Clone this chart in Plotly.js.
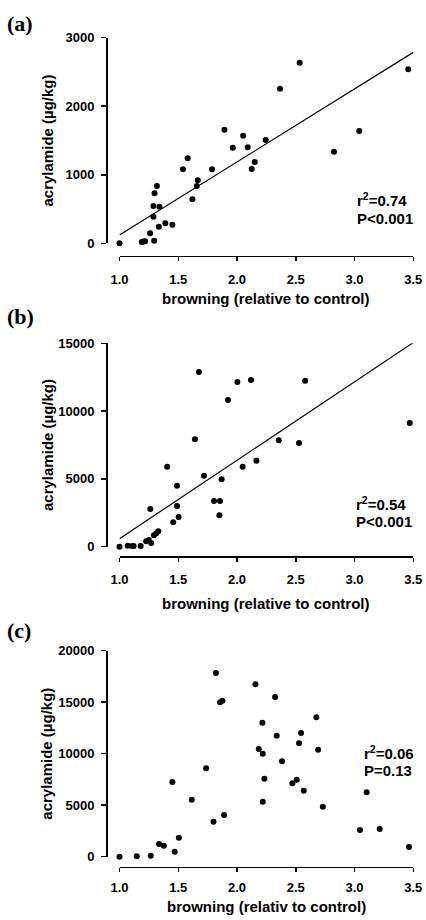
<!DOCTYPE html>
<html>
<head>
<meta charset="utf-8">
<script src="https://cdn.plot.ly/plotly-3.0.1.min.js"></script>
<style>html,body{margin:0;padding:0;background:#fff;}#chart{width:426px;height:920px;}</style>
</head>
<body>
<div id="chart"></div>
<script>
// ---- Data ----
// Panel (a)
const browningA = [1.00, 1.19, 1.204, 1.218, 1.26, 1.289, 1.289, 1.298, 1.318, 1.295, 1.335, 1.34, 1.39, 1.45,
  1.54, 1.58, 1.62, 1.658, 1.666, 1.788, 1.893, 1.964, 2.052, 2.091, 2.125, 2.151, 2.244, 2.366, 2.533, 2.825, 3.04, 3.457];
const acrylA = [0, 20, 25, 30, 146, 388, 545, 730, 836, 38, 243, 535, 292, 272,
  1079, 1240, 642, 836, 919, 1079, 1658, 1395, 1570, 1400, 1084, 1186, 1507, 2256, 2635, 1337, 1638, 2538];
const fitXA = [1.0, 3.5];
const fitYA = [122, 2786];

// Panel (b)
const browningB = [1.00, 1.07, 1.108, 1.12, 1.18, 1.227, 1.25, 1.27, 1.262, 1.293, 1.313, 1.33, 1.406, 1.457,
  1.49, 1.49, 1.503, 1.642, 1.676, 1.719, 1.804, 1.855, 1.85, 1.869, 1.923, 2.003, 2.048, 2.119, 2.165, 2.355,
  2.528, 2.58, 3.47];
const acrylB = [0, 74, 50, 50, 50, 394, 492, 270, 2779, 836, 984, 1133, 5901, 1795,
  4500, 3000, 2188, 7918, 12885, 5237, 3369, 3369, 2311, 4967, 10820, 12147, 5901, 12295, 6344, 7844,
  7647, 12246, 9123];
const fitXB = [1.0, 3.5];
const fitYB = [590, 15050];

// Panel (c)
const browningC = [1.00, 1.147, 1.266, 1.337, 1.377, 1.47, 1.45, 1.505, 1.615, 1.737, 1.80, 1.82, 1.856, 1.876,
  1.89, 2.157, 2.216, 2.185, 2.219, 2.233, 2.219, 2.324, 2.338, 2.383, 2.471, 2.508, 2.528, 2.545, 2.568,
  2.675, 2.69, 2.73, 3.046, 3.103, 3.214, 3.463];
const acrylC = [0, 32, 97, 1230, 1068, 485, 7249, 1845, 5534, 8576, 3398, 17832, 14984, 15146,
  4045, 16738, 13010, 10456, 10000, 7573, 5340, 15505, 11748, 9262, 7126, 7476, 11010, 12010, 6408,
  13534, 10388, 4854, 2589, 6246, 2686, 939];

const xTicks = [1.0, 1.5, 2.0, 2.5, 3.0, 3.5];
const xTickText = ['1.0', '1.5', '2.0', '2.5', '3.0', '3.5'];
const yTicksA = [0, 1000, 2000, 3000];
const yTicksB = [0, 5000, 10000, 15000];
const yTicksC = [0, 5000, 10000, 15000, 20000];
const panelLabels = ['(a)', '(b)', '(c)'];
const statsA = ['r<sup>2</sup>=0.74', 'P<0.001'];
const statsB = ['r<sup>2</sup>=0.54', 'P<0.001'];
const statsC = ['r<sup>2</sup>=0.06', 'P=0.13'];
const yTitle = 'acrylamide (µg/kg)';
const xTitleAB = 'browning (relative to control)';
const xTitleC = 'browning (relativ to control)';

// ---- Layout helpers (pixel geometry) ----
const W = 426, H = 920;
const fx = px => px / W;
const fy = py => 1 - py / H;
const SANS = 'Liberation Sans, Arial, sans-serif';
const SERIF = 'Liberation Serif, Times New Roman, serif';
const tickFont = {family: SANS, size: 13, color: '#000', weight: 'bold'};
const titleFont = {family: SANS, size: 15, color: '#000', weight: 'bold'};

const xLeft = 119.5, xRight = 413.3, yAxisX = 106;

function xAxis(yLinePx, labelStandoff) {
  return {
    domain: [fx(xLeft), fx(xRight)], range: [1.0, 3.5], anchor: 'free', position: fy(yLinePx),
    showgrid: false, zeroline: false, showline: true, linecolor: '#000', linewidth: 1.5,
    ticks: 'outside', ticklen: 4, tickwidth: 1.5, tickcolor: '#000',
    tickvals: xTicks, ticktext: xTickText, tickfont: tickFont, ticklabelstandoff: labelStandoff, automargin: false
  };
}
function yAxis(topPx, botPx, maxV, tv) {
  return {
    domain: [fy(botPx), fy(topPx)], range: [0, maxV], anchor: 'free', position: fx(yAxisX),
    showgrid: false, zeroline: false, showline: true, linecolor: '#000', linewidth: 1.5,
    ticks: 'outside', ticklen: 5, tickwidth: 1.5, tickcolor: '#000',
    tickvals: tv, ticktext: tv.map(String), tickfont: tickFont, ticklabelstandoff: 4, automargin: false
  };
}

const dot = {color: '#000', size: 6};
const traces = [
  {x: browningA, y: acrylA, type: 'scatter', mode: 'markers', marker: dot, cliponaxis: false, xaxis: 'x', yaxis: 'y'},
  {x: fitXA, y: fitYA, type: 'scatter', mode: 'lines', line: {color: '#000', width: 1.2}, cliponaxis: false, xaxis: 'x', yaxis: 'y'},
  {x: browningB, y: acrylB, type: 'scatter', mode: 'markers', marker: dot, cliponaxis: false, xaxis: 'x2', yaxis: 'y2'},
  {x: fitXB, y: fitYB, type: 'scatter', mode: 'lines', line: {color: '#000', width: 1.2}, cliponaxis: false, xaxis: 'x2', yaxis: 'y2'},
  {x: browningC, y: acrylC, type: 'scatter', mode: 'markers', marker: dot, cliponaxis: false, xaxis: 'x3', yaxis: 'y3'}
];

const annFont = {family: SANS, size: 15, color: '#000', weight: 'bold'};
function statLine(t, xPx, yPx) {
  return {xref: 'paper', yref: 'paper', x: fx(xPx), y: fy(yPx), xanchor: 'left', yanchor: 'middle', align: 'left',
    text: t, showarrow: false, font: annFont};
}
function stats(lines, xPx, yPx) {
  return [statLine(lines[0], xPx, yPx - 9), statLine(lines[1], xPx, yPx + 9.5)];
}
function plabel(t, yPx) {
  return {xref: 'paper', yref: 'paper', x: fx(5), y: fy(yPx), xanchor: 'left', yanchor: 'middle',
    text: t, showarrow: false, font: {family: SERIF, size: 22, color: '#000', weight: 'bold'}};
}
function xTitle(t, yPx) {
  return {xref: 'paper', yref: 'paper', x: fx((xLeft + xRight) / 2), y: fy(yPx), xanchor: 'center', yanchor: 'middle',
    text: t, showarrow: false, font: titleFont};
}
function yTitleAnn(topPx, botPx) {
  return {xref: 'paper', yref: 'paper', x: fx(47), y: fy((topPx + botPx) / 2), xanchor: 'center', yanchor: 'middle',
    text: yTitle, textangle: -90, showarrow: false, font: titleFont};
}

const layout = {
  width: W, height: H, margin: {l: 0, r: 0, t: 0, b: 0},
  paper_bgcolor: '#fff', plot_bgcolor: 'rgba(0,0,0,0)', showlegend: false,
  xaxis: xAxis(255.5, 7), yaxis: yAxis(37.7, 243.3, 3000, yTicksA),
  xaxis2: xAxis(556, 7), yaxis2: yAxis(343.3, 546.7, 15000, yTicksB),
  xaxis3: xAxis(866.7, 4), yaxis3: yAxis(650.7, 856.7, 20000, yTicksC),
  annotations: [
    plabel(panelLabels[0], 23), plabel(panelLabels[1], 317), plabel(panelLabels[2], 630),
    xTitle(xTitleAB, 299), xTitle(xTitleAB, 603), xTitle(xTitleC, 906),
    yTitleAnn(37.7, 243.3), yTitleAnn(343.3, 546.7), yTitleAnn(650.7, 856.7)
  ].concat(stats(statsA, 355, 209), stats(statsB, 354, 512), stats(statsC, 362, 761))
};

Plotly.newPlot('chart', traces, layout, {displayModeBar: false, staticPlot: true});
</script>
</body>
</html>
